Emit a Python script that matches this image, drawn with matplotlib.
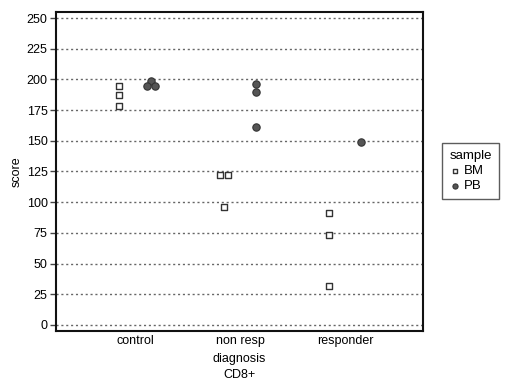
import numpy as np
import matplotlib
matplotlib.use('Agg')
import matplotlib.pyplot as plt

plt.rcParams['font.family'] = ['Liberation Sans', 'DejaVu Sans']

categories = ['control', 'non resp', 'responder']
bm_cat = [0, 0, 0, 1, 1, 1, 2, 2, 2]
bm_score = [195, 187, 178, 122, 122, 96, 91, 73, 32]
pb_cat = [0, 0, 0, 1, 1, 1, 2]
pb_score = [199, 195, 195, 196, 190, 161, 149]
yticks = [0, 25, 50, 75, 100, 125, 150, 175, 200, 225, 250]


def positions(cats, vals, dodge, spread=0.04):
    # spread tied values sideways, like the original's point layout
    xs = []
    for i, (c, v) in enumerate(zip(cats, vals)):
        ties = [j for j, (c2, v2) in enumerate(zip(cats, vals)) if c2 == c and v2 == v]
        k = ties.index(i)
        n = len(ties)
        off = (k - (n - 1) / 2) * 2 * spread
        xs.append(c + 1 + dodge + off)
    return np.array(xs)


fig = plt.figure(figsize=(5.2, 3.88), dpi=100)
ax = fig.add_axes([56 / 520, 1 - 331 / 388, (423 - 56) / 520, (331 - 12) / 388])

ax.scatter(positions(bm_cat, bm_score, -0.152), bm_score, marker='s', s=24,
           facecolors='white', edgecolors='#333333', linewidths=1.0, label='BM', zorder=3)
ax.scatter(positions(pb_cat, pb_score, 0.152), pb_score, marker='o', s=28,
           facecolors='#555555', edgecolors='#333333', linewidths=0.8, label='PB', zorder=3)

ax.set_xlim(0.248, 3.743)
ax.set_ylim(-5, 255)
ax.set_yticks(yticks)
ax.set_xticks([1, 2, 3])
ax.set_xticklabels(categories)
ax.yaxis.grid(True, linestyle=(0, (1.5, 2)), color='#666666', linewidth=1.0)
ax.set_axisbelow(True)
ax.tick_params(axis='y', length=4, width=1, color='#444444', labelsize=9, pad=2)
ax.tick_params(axis='x', length=0, labelsize=9, pad=3)
for s in ax.spines.values():
    s.set_linewidth(1.5)
    s.set_color('#111111')

ax.set_xlabel('diagnosis\nCD8+', fontsize=9, labelpad=4, linespacing=1.5)
ax.set_ylabel('score', fontsize=9, labelpad=3)

leg = fig.legend(loc='upper left', bbox_to_anchor=(442 / 520, 1 - 143 / 388),
                 borderaxespad=0,
                 title='sample', fontsize=9.5, title_fontsize=9.5, frameon=True,
                 fancybox=False, edgecolor='#333333', handletextpad=0.3,
                 handlelength=0.8, borderpad=0.55, labelspacing=0.2, markerscale=0.7)
leg._legend_box.align = 'left'
leg.get_frame().set_linewidth(1.0)

fig.savefig('out.png', dpi=100)
